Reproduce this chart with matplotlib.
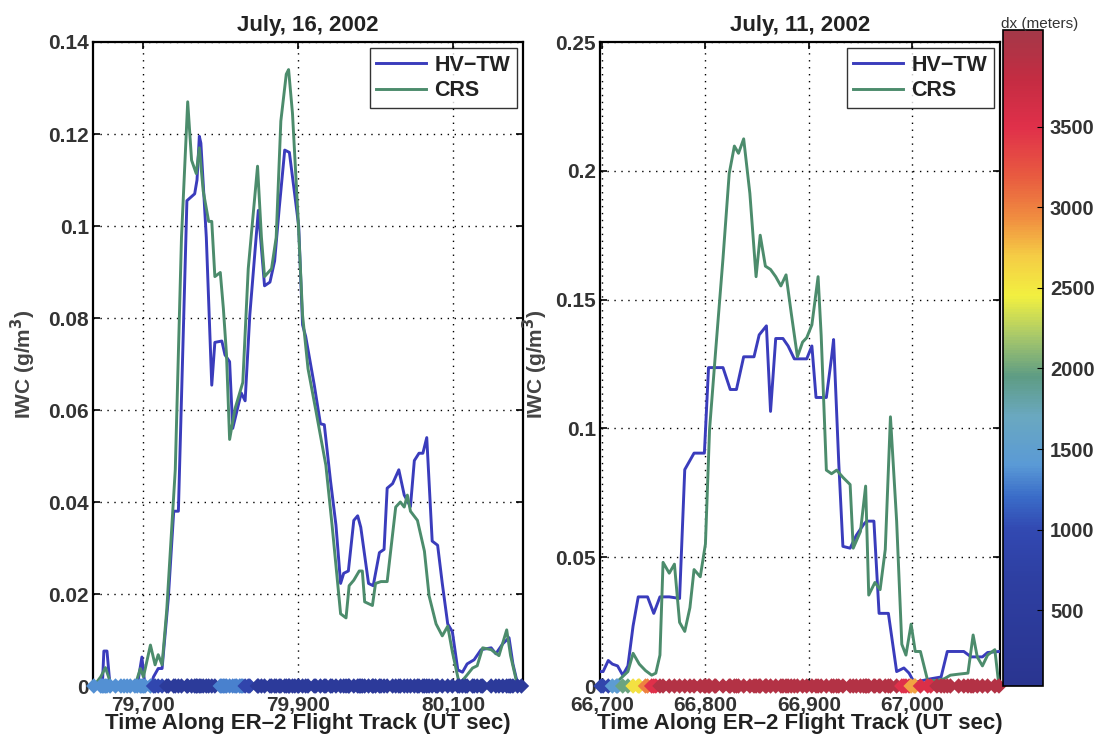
import numpy as np
import matplotlib
matplotlib.use("Agg")
import matplotlib.pyplot as plt
from matplotlib.colors import LinearSegmentedColormap, Normalize
from matplotlib.ticker import FuncFormatter, FixedLocator

# ---------------- data ----------------
# July 16, 2002 (left panel)
t16_hv = [79637, 79648, 79650, 79654, 79658, 79672, 79680, 79693, 79699, 79703, 79710, 79714, 79720, 79725,
          79733, 79740, 79746, 79757, 79767, 79770, 79773, 79775, 79782, 79789, 79793, 79802,
          79806, 79812, 79816, 79821, 79827, 79832, 79838, 79849, 79857, 79864, 79870, 79876,
          79883, 79889, 79896, 79901, 79906, 79910, 79921, 79929, 79934, 79942, 79949, 79955,
          79959, 79965, 79972, 79977, 79981, 79991, 79997, 80005, 80011, 80015, 80022, 80030,
          80037, 80045, 80050, 80056, 80061, 80066, 80073, 80080, 80086, 80093, 80099, 80106,
          80112, 80118, 80127, 80136, 80149, 80155, 80164, 80172, 80177, 80183, 80188]
iwc16_hv = [0, 0, 0.0076, 0.0076, 0, 0, 0, 0, 0.0063, 0, 0, 0.002, 0.0038, 0.0038,
            0.019, 0.038, 0.038, 0.1055, 0.107, 0.110, 0.1195, 0.118, 0.0975, 0.0654, 0.0747, 0.075,
            0.072, 0.0705, 0.056, 0.0595, 0.0637, 0.062, 0.0806, 0.1034, 0.087, 0.0878, 0.0924, 0.104,
            0.1165, 0.116, 0.1067, 0.1, 0.0785, 0.076, 0.0655, 0.057, 0.0568, 0.0446, 0.035, 0.0223,
            0.0245, 0.025, 0.036, 0.037, 0.0345, 0.0223, 0.0218, 0.029, 0.0297, 0.043, 0.044, 0.047,
            0.0415, 0.039, 0.049, 0.0506, 0.0506, 0.054, 0.0315, 0.0306, 0.0223, 0.0135, 0.0118, 0.0035,
            0.003, 0.0048, 0.0057, 0.0079, 0.0083, 0.007, 0.0092, 0.0105, 0.0048, 0.0005, 0]

t16_crs = [79637, 79646, 79652, 79658, 79665, 79676, 79684, 79690, 79697, 79701, 79710, 79716, 79720, 79725,
           79731, 79742, 79750, 79758, 79763, 79769, 79773, 79778, 79785, 79789, 79793, 79800,
           79804, 79808, 79812, 79819, 79825, 79829, 79836, 79848, 79853, 79857, 79866, 79872,
           79878, 79885, 79888, 79893, 79900, 79906, 79913, 79923, 79936, 79944, 79955, 79962,
           79966, 79972, 79979, 79983, 79986, 79996, 80000, 80007, 80015, 80026, 80032, 80037,
           80041, 80045, 80054, 80063, 80069, 80078, 80086, 80093, 80099, 80108, 80116, 80125,
           80131, 80138, 80149, 80159, 80169, 80174, 80183, 80188]
iwc16_crs = [0, 0.002, 0.004, 0.001, 0, 0, 0, 0, 0.0038, 0.002, 0.0089, 0.0046, 0.0068, 0.0046,
             0.0165, 0.047, 0.0975, 0.127, 0.1143, 0.1114, 0.117, 0.1076, 0.101, 0.101, 0.089, 0.0899,
             0.082, 0.072, 0.0536, 0.0603, 0.0637, 0.066, 0.0907, 0.113, 0.0975, 0.089, 0.0907, 0.0975,
             0.1228, 0.133, 0.134, 0.1245, 0.1025, 0.0806, 0.069, 0.06, 0.048, 0.035, 0.0157, 0.0148,
             0.0218, 0.023, 0.025, 0.025, 0.0183, 0.0175, 0.0223, 0.0227, 0.0227, 0.0389, 0.04, 0.0389,
             0.0415, 0.038, 0.036, 0.0293, 0.0196, 0.0135, 0.0109, 0.013, 0.0074, 0.0004, 0.002, 0.0039,
             0.0044, 0.0083, 0.0079, 0.0066, 0.0122, 0.0066, 0, 0]

# July 11, 2002 (right panel)
t11_hv = [66699, 66701, 66706, 66710, 66715, 66720, 66725, 66730, 66735, 66744, 66750, 66756,
          66765, 66775, 66780, 66789, 66799, 66803, 66809, 66817, 66824, 66830, 66837, 66847,
          66852, 66859, 66863, 66868, 66875, 66880, 66886, 66898, 66903, 66907, 66917, 66922,
          66924, 66929, 66933, 66940, 66946, 66953, 66956, 66963, 66968, 66977, 66985, 66992,
          66997, 67002, 67018, 67028, 67034, 67050, 67057, 67068, 67073, 67084]
iwc11_hv = [0.0056, 0.0056, 0.0099, 0.0085, 0.0078, 0.0042, 0.0078, 0.0233, 0.0346, 0.0346, 0.0282, 0.0346,
            0.0346, 0.034, 0.084, 0.0904, 0.0904, 0.1236, 0.1236, 0.1236, 0.1151, 0.1151, 0.1278, 0.1278,
            0.1363, 0.1398, 0.1066, 0.1349, 0.1349, 0.132, 0.127, 0.127, 0.132, 0.112, 0.112, 0.1275,
            0.1345, 0.0866, 0.0542, 0.0535, 0.0585, 0.0627, 0.064, 0.064, 0.0282, 0.0282, 0.0056, 0.007,
            0.005, 0.0014, 0.0028, 0.0035, 0.0134, 0.0134, 0.0113, 0.0113, 0.013, 0.0134]

t11_crs = [66699, 66706, 66714, 66725, 66730, 66736, 66742, 66748, 66752, 66756, 66759, 66765, 66770,
           66775, 66780, 66785, 66789, 66795, 66800, 66804, 66810, 66817, 66823, 66828, 66832,
           66837, 66843, 66849, 66853, 66858, 66863, 66868, 66873, 66878, 66883, 66889, 66894,
           66898, 66903, 66909, 66912, 66917, 66922, 66927, 66933, 66940, 66943, 66950, 66955,
           66958, 66964, 66969, 66974, 66979, 66985, 66990, 66994, 66999, 67003, 67008, 67015,
           67024, 67031, 67037, 67045, 67054, 67059, 67063, 67068, 67073, 67080, 67084]
iwc11_crs = [0, 0, 0.0014, 0.0056, 0.0127, 0.0085, 0.006, 0.0042, 0.005, 0.012, 0.048, 0.0438, 0.0473,
             0.0247, 0.0212, 0.0304, 0.0452, 0.0424, 0.0551, 0.0996, 0.1307, 0.166, 0.1989, 0.2096, 0.2068,
             0.2124, 0.1912, 0.1589, 0.175, 0.163, 0.1617, 0.1589, 0.1553, 0.1596, 0.1448, 0.1278, 0.1335,
             0.1352, 0.1402, 0.1589, 0.136, 0.0838, 0.0824, 0.0838, 0.081, 0.0782, 0.0535, 0.06, 0.0776,
             0.0353, 0.0402, 0.0374, 0.053, 0.1045, 0.064, 0.0162, 0.012, 0.024, 0.0134, 0.0134, 0.0021,
             0.0021, 0.0028, 0.0042, 0.0046, 0.005, 0.0198, 0.0113, 0.0078, 0.012, 0.0141, 0]

# dx (meters) along the track: segment boundaries and value in each segment
dx16_edges = [79636, 79712, 79727, 79797, 79832, 79840, 80190]
dx16_vals = [1350, 950, 420, 1300, 900, 400]
dx11_edges = [66698, 66708, 66718, 66726, 66738, 66748, 66756, 66988, 66998, 67007, 67022, 67086]
dx11_vals = [900, 1450, 2000, 2550, 3000, 3500, 3950, 3500, 2850, 3550, 3950]

cbar_ticks = [500, 1000, 1500, 2000, 2500, 3000, 3500]
dx_range = (30, 4100)

# ---------------- styling ----------------
plt.rcParams['font.family'] = ['Liberation Sans', 'DejaVu Sans']
plt.rcParams['font.weight'] = 'bold'
plt.rcParams['axes.labelweight'] = 'bold'
plt.rcParams['axes.titleweight'] = 'bold'

c_hv = '#3a3cbc'
c_crs = '#4c8c6c'
tick_color = '#333333'

anchors = [(30, '#2a3590'), (700, '#2e3fa2'), (1000, '#3249b2'), (1200, '#3a6cc8'),
           (1400, '#5a9ad6'), (1700, '#6aa8c0'), (1950, '#5e9c84'), (2200, '#a8c86a'),
           (2450, '#f2f040'), (2700, '#f5cc45'), (2950, '#f08a40'), (3200, '#e85a40'),
           (3500, '#e0304a'), (3800, '#c42c42'), (4100, '#a43848')]
lo, hi = dx_range
cmap = LinearSegmentedColormap.from_list(
    'dx', [((v - lo) / (hi - lo), c) for v, c in anchors])
norm = Normalize(vmin=lo, vmax=hi)

fig = plt.figure(figsize=(10.98, 7.40), dpi=100)
W, H = 1098, 740


def frac(x0, y0, x1, y1):
    return [x0 / W, 1 - y1 / H, (x1 - x0) / W, (y1 - y0) / H]


ax1 = fig.add_axes(frac(93, 42, 523, 686))
ax2 = fig.add_axes(frac(600, 42, 1000, 686))
cax = fig.add_axes(frac(1003, 30, 1043, 686))


def dx_lookup(times, edges, vals):
    idx = np.clip(np.searchsorted(edges, times, side='right') - 1, 0, len(vals) - 1)
    return np.asarray(vals)[idx]


def comma_fmt(v, pos):
    return f"{int(round(v)):,}"


def y_fmt(v, pos):
    s = f"{v:.2f}".rstrip('0').rstrip('.')
    return s


def panel(ax, t_hv, y_hv, t_crs, y_crs, edges, vals, xlim, ylim, yticks, xticks, title, ylab_x):
    ax.plot(t_hv, y_hv, color=c_hv, lw=2.1, label='HV\u2212TW', zorder=3)
    ax.plot(t_crs, y_crs, color=c_crs, lw=2.1, label='CRS', zorder=3)
    tt = np.union1d(np.asarray(t_hv), np.asarray(t_crs))
    tt = tt[(tt >= xlim[0]) & (tt <= xlim[1])]
    ax.scatter(tt, np.zeros_like(tt, dtype=float), c=dx_lookup(tt, edges, vals),
               cmap=cmap, norm=norm, marker='D', s=62, linewidths=0,
               clip_on=False, zorder=5)
    ax.set_xlim(*xlim)
    ax.set_ylim(*ylim)
    ax.xaxis.set_major_locator(FixedLocator(xticks))
    ax.yaxis.set_major_locator(FixedLocator(yticks))
    ax.xaxis.set_major_formatter(FuncFormatter(comma_fmt))
    ax.yaxis.set_major_formatter(FuncFormatter(y_fmt))
    ax.grid(True, linestyle=(0, (1, 4)), color='black', lw=1.0)
    ax.tick_params(direction='in', top=True, right=True, length=5, width=1.2,
                   labelsize=15, labelcolor=tick_color)
    ax.tick_params(axis='x', pad=7)
    ax.tick_params(axis='y', pad=3)
    for sp in ax.spines.values():
        sp.set_linewidth(1.6)
        sp.set_color('black')
    ax.set_title(title, fontsize=16, pad=8, color='#222222')
    ax.set_xlabel('Time Along ER\u20132 Flight Track (UT sec)', fontsize=16, labelpad=-1,
                  color='#222222')
    ax.set_ylabel('IWC (g/m$^\\mathbf{3}$)', fontsize=15, color='#444444')
    pos = ax.get_position()
    ax.yaxis.set_label_coords((ylab_x - pos.x0 * W) / (pos.width * W), 0.5)
    leg = ax.legend(loc='upper right', fontsize=15.5, frameon=True, fancybox=False,
                    edgecolor='black', handlelength=2.3, borderpad=0.3,
                    labelspacing=0.2, handletextpad=0.4, borderaxespad=0.3)
    leg.get_frame().set_linewidth(1.0)
    for txt in leg.get_texts():
        txt.set_color('#222222')


panel(ax1, t16_hv, iwc16_hv, t16_crs, iwc16_crs, dx16_edges, dx16_vals,
      (79636, 80190), (0, 0.14), [0, 0.02, 0.04, 0.06, 0.08, 0.1, 0.12, 0.14],
      [79700, 79900, 80100], 'July, 16, 2002', 38)
panel(ax2, t11_hv, iwc11_hv, t11_crs, iwc11_crs, dx11_edges, dx11_vals,
      (66698, 67085), (0, 0.25), [0, 0.05, 0.1, 0.15, 0.2, 0.25],
      [66700, 66800, 66900, 67000], 'July, 11, 2002', 550)

# colorbar
sm = matplotlib.cm.ScalarMappable(norm=norm, cmap=cmap)
cb = fig.colorbar(sm, cax=cax, ticks=cbar_ticks)
cb.outline.set_linewidth(1.2)
cax.tick_params(labelsize=14.5, labelcolor=tick_color, direction='in', length=4, pad=5)
fig.text(1040 / W, 1 - 31 / H, 'dx (meters)', ha='center', va='bottom',
         fontsize=11, fontweight='normal', color='#333333')

fig.savefig('out.png', dpi=100)
